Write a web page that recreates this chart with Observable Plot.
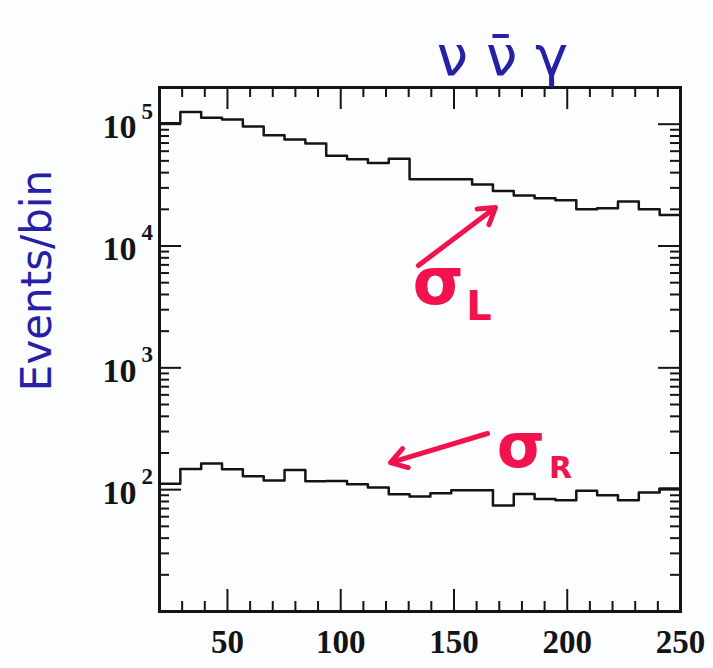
<!DOCTYPE html>
<html><head><meta charset="utf-8">
<script src="https://cdn.jsdelivr.net/npm/d3@7"></script>
<script src="https://cdn.jsdelivr.net/npm/@observablehq/plot@0.6"></script>
<style>body{margin:0;background:#fbfdff;} svg{background:#fbfdff;}</style>
</head><body><div id="chart"></div>
<script>
// Bin edges (photon energy) and events per bin for each polarisation
const binEdges = [20, 29.2, 38.4, 47.6, 56.8, 66, 75.2, 84.4, 93.6, 102.8, 112, 121.2, 130.4, 139.6, 148.8, 158, 167.2, 176.4, 185.6, 194.8, 204, 213.2, 222.4, 231.6, 240.8, 250];
const sigmaL = [102000, 126000, 113000, 109000, 95500, 81000, 75000, 69500, 55000, 51500, 48000, 52000, 35300, 35300, 35300, 32000, 28300, 26000, 24700, 23800, 20000, 20400, 23200, 20000, 18000];
const sigmaR = [112, 148, 164, 147, 129, 119, 145, 117, 118, 111, 104, 91.5, 88, 93.6, 99, 98.7, 74, 92, 84, 82, 98, 90, 82, 95, 102];

// Axis ticks and labels
const xLabels = [50, 100, 150, 200, 250];
const xMajor = [50, 100, 150, 200];
const xMinor = [30, 40, 60, 70, 80, 90, 110, 120, 130, 140, 160, 170, 180, 190, 210, 220, 230, 240];
const yExponents = [2, 3, 4, 5];
const yMajor = [100, 1000, 10000, 100000];
const yMinor = [20, 30, 40, 50, 60, 70, 80, 90,
  200, 300, 400, 500, 600, 700, 800, 900,
  2000, 3000, 4000, 5000, 6000, 7000, 8000, 9000,
  20000, 30000, 40000, 50000, 60000, 70000, 80000, 90000];

// Texts and hand-drawn annotations (positions in data coordinates)
const title = "ν ν̄ γ";
const yTitle = "Events/bin";
const annotText = [
  {x: 143, y: 5010, t: "σ", size: 66},
  {x: 161, y: 3150, t: "L", size: 40},
  {x: 179.5, y: 222, t: "σ", size: 62},
  {x: 197, y: 150, t: "R", size: 30}
];
const annotArrows = [
  {x1: 134.3, y1: 6920, x2: 168.3, y2: 20700},
  {x1: 164.8, y1: 289, x2: 122, y2: 167}
];

const W = 713, H = 668, mL = 159, mR = 33, mT = 87, mB = 57;
const fw = W - mL - mR, fh = H - mT - mB;
const red = "#f2124e", blue = "#2520a6", ink = "#141414";

const stepRows = (vals) => binEdges.map((e, i) => ({x: e, y: vals[Math.min(i, vals.length - 1)]}));

const chart = Plot.plot({
  width: W, height: H,
  marginLeft: mL, marginRight: mR, marginTop: mT, marginBottom: mB,
  style: {background: "#fbfdff", fontFamily: "Liberation Serif"},
  x: {domain: [20, 250], axis: null},
  y: {type: "log", domain: [10, 200000], axis: null},
  marks: [
    // inward ticks
    Plot.tickX(xMajor, {x: d => d, insetTop: fh - 22, stroke: ink, strokeWidth: 2}),
    Plot.tickX(xMajor, {x: d => d, insetBottom: fh - 22, stroke: ink, strokeWidth: 2}),
    Plot.tickX(xMinor, {x: d => d, insetTop: fh - 10, stroke: ink, strokeWidth: 2}),
    Plot.tickX(xMinor, {x: d => d, insetBottom: fh - 10, stroke: ink, strokeWidth: 2}),
    Plot.tickY(yMajor, {y: d => d, insetRight: fw - 22, stroke: ink, strokeWidth: 2}),
    Plot.tickY(yMajor, {y: d => d, insetLeft: fw - 22, stroke: ink, strokeWidth: 2}),
    Plot.tickY(yMinor, {y: d => d, insetRight: fw - 10, stroke: ink, strokeWidth: 2}),
    Plot.tickY(yMinor, {y: d => d, insetLeft: fw - 10, stroke: ink, strokeWidth: 2}),
    Plot.frame({stroke: ink, strokeWidth: 3}),
    // histograms
    Plot.line(stepRows(sigmaL), {x: "x", y: "y", curve: "step-after", stroke: ink, strokeWidth: 2.5}),
    Plot.line(stepRows(sigmaR), {x: "x", y: "y", curve: "step-after", stroke: ink, strokeWidth: 2.5}),
    // x labels
    Plot.axisX(xLabels, {tickSize: 0, tickPadding: 18, fontSize: 33, fontWeight: "bold", fontFamily: "Liberation Serif", fill: ink}),
    // y labels 10^n
    Plot.text(yExponents, {y: d => 10 ** d, text: () => "10", frameAnchor: "left", dx: -23, dy: 3, textAnchor: "end", fontSize: 34, fontWeight: "bold", fontFamily: "Liberation Serif", fill: ink}),
    Plot.text(yExponents, {y: d => 10 ** d, text: d => String(d), frameAnchor: "left", dx: -18, dy: -13, textAnchor: "start", fontSize: 23, fontWeight: "bold", fontFamily: "Liberation Serif", fill: ink}),
    // titles
    Plot.text([title], {x: [171.4], text: d => d, frameAnchor: "top", dy: -30, lineAnchor: "middle", textAnchor: "middle", fontSize: 56, fontFamily: "DejaVu Sans", fill: blue}),
    Plot.text([yTitle], {y: [5210], text: d => d, frameAnchor: "left", dx: -122, rotate: -90, textAnchor: "middle", lineAnchor: "middle", fontSize: 42, fontFamily: "DejaVu Sans", fill: blue}),
    // red annotations
    Plot.arrow(annotArrows, {x1: "x1", y1: "y1", x2: "x2", y2: "y2", stroke: red, strokeWidth: 5, headLength: 5.5, headAngle: 65, strokeLinecap: "round"}),
    Plot.text(annotText, {x: "x", y: "y", text: "t", fontSize: d => d.size, fontWeight: "bold", fontFamily: "DejaVu Sans", fill: red})
  ]
});
document.getElementById("chart").appendChild(chart);
</script>
</body></html>
